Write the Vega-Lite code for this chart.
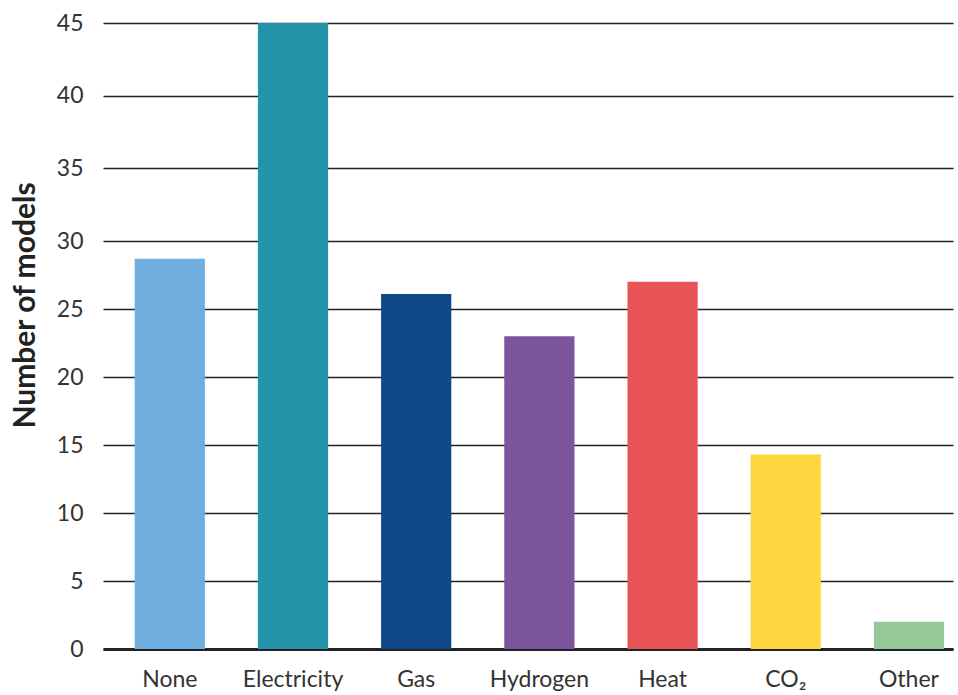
{
  "$schema": "https://vega.github.io/schema/vega-lite/v6.json",
  "width": 850,
  "height": 626,
  "autosize": {"type": "none"},
  "padding": {"left": 103, "top": 23, "right": 5, "bottom": 46},
  "background": "white",
  "config": {"view": {"stroke": null}, "font": "Lato"},
  "data": {
    "values": [
      {"source": "None", "models": 28.7},
      {"source": "Electricity", "models": 45},
      {"source": "Gas", "models": 26.1},
      {"source": "Hydrogen", "models": 23.0},
      {"source": "Heat", "models": 27.0},
      {"source": "CO₂", "models": 14.3},
      {"source": "Other", "models": 2.0}
    ]
  },
  "mark": {"type": "bar"},
  "encoding": {
    "x": {
      "field": "source",
      "type": "nominal",
      "sort": null,
      "scale": {"paddingInner": 0.43, "paddingOuter": 0.165, "align": 0.78},
      "axis": {
        "title": null,
        "labelAngle": 0,
        "labelFont": "Lato",
        "labelFontSize": 23,
        "labelColor": "#333333",
        "labelPadding": 19,
        "ticks": false,
        "domain": true,
        "domainColor": "#222222",
        "domainWidth": 3,
        "grid": false
      }
    },
    "y": {
      "field": "models",
      "type": "quantitative",
      "scale": {"domain": [0, 30, 45], "range": [626, 218, 0], "nice": false, "zero": false},
      "axis": {
        "title": "Number of models",
        "titleFont": "Lato",
        "titleFontSize": 30,
        "titleFontWeight": "bold",
        "titleColor": "#222222",
        "titleAngle": 270,
        "titleX": -78,
        "titleY": 282,
        "titleAlign": "center",
        "titleBaseline": "middle",
        "values": [0, 5, 10, 15, 20, 25, 30, 35, 40, 45],
        "labelFont": "Lato",
        "labelFontSize": 23,
        "labelColor": "#333333",
        "labelPadding": 20,
        "ticks": false,
        "domain": false,
        "grid": true,
        "gridColor": "#222222",
        "gridWidth": 1.5
      }
    },
    "color": {
      "field": "source",
      "type": "nominal",
      "scale": {
        "domain": ["None", "Electricity", "Gas", "Hydrogen", "Heat", "CO₂", "Other"],
        "range": ["#70AEDF", "#2494AA", "#0E4889", "#7D559D", "#E85457", "#FDD53F", "#95C897"]
      },
      "legend": null
    }
  }
}
